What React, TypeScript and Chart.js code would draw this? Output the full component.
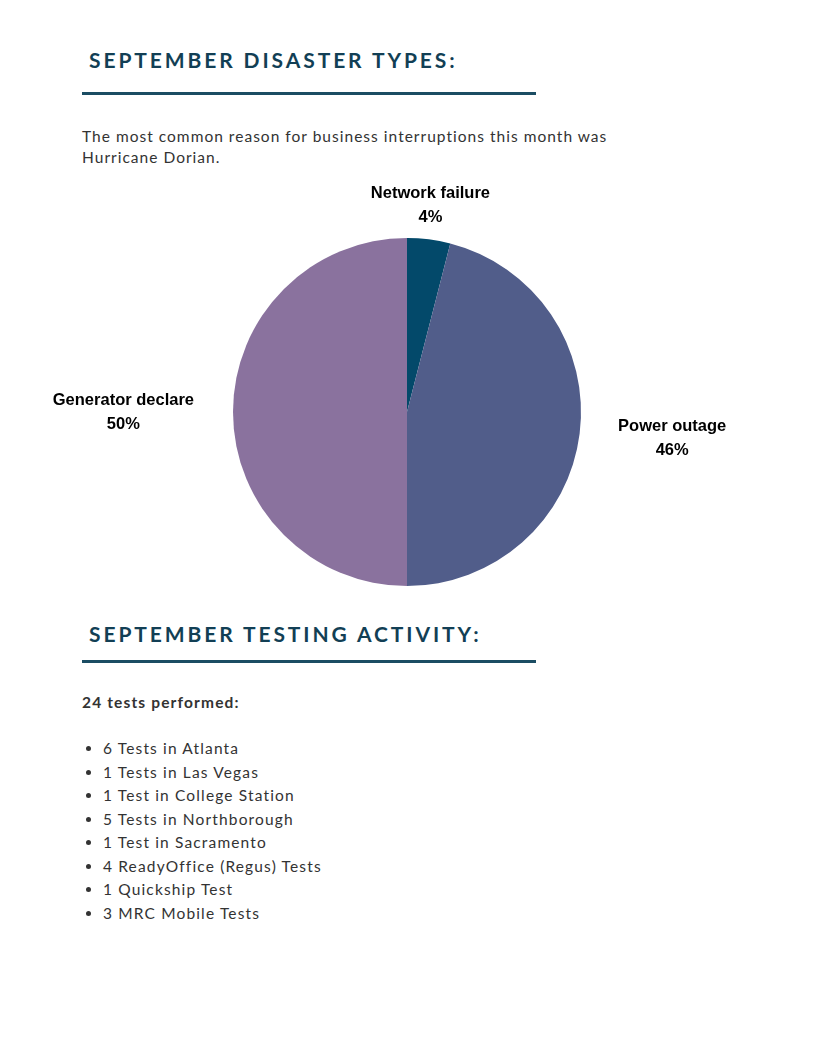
import React, { useEffect, useRef } from "react";
import { Chart, registerables } from "chart.js";

Chart.register(...registerables);

const categories = ["Network failure", "Power outage", "Generator declare"];
const percentValues = [4, 46, 50];
const sliceColors = ["#03496a", "#515d8a", "#8a729e"];

const heading1 = "SEPTEMBER DISASTER TYPES:";
const intro = "The most common reason for business interruptions this month was Hurricane Dorian.";
const heading2 = "SEPTEMBER TESTING ACTIVITY:";
const testsSummary = "24 tests performed:";
const testItems = [
  "6 Tests in Atlanta",
  "1 Tests in Las Vegas",
  "1 Test in College Station",
  "5 Tests in Northborough",
  "1 Test in Sacramento",
  "4 ReadyOffice (Regus) Tests",
  "1 Quickship Test",
  "3 MRC Mobile Tests",
];

const labelPlugin = {
  id: "outsideLabels",
  afterDatasetsDraw(chart: any) {
    const ctx = chart.ctx;
    const meta = chart.getDatasetMeta(0);
    const data = chart.data.datasets[0].data as number[];
    ctx.save();
    ctx.font = "bold 16.5px 'Liberation Sans', Arial, sans-serif";
    ctx.fillStyle = "#000";
    meta.data.forEach((arc: any, i: number) => {
      const { x, y, startAngle, endAngle, outerRadius } = arc.getProps(
        ["x", "y", "startAngle", "endAngle", "outerRadius"],
        true
      );
      const mid = (startAngle + endAngle) / 2;
      const dx = Math.cos(mid);
      const dy = Math.sin(mid);
      const g = 9 + 30 * Math.abs(dx);
      const ax = x + (outerRadius + g) * dx;
      const ay = y + (outerRadius + g) * dy;
      const l1 = chart.data.labels[i];
      const l2 = data[i] + "%";
      const w = Math.max(ctx.measureText(l1).width, ctx.measureText(l2).width);
      const h = 42;
      let cx = ax;
      if (dx > 0.4) cx = ax + w / 2;
      else if (dx < -0.4) cx = ax - w / 2;
      let cy = ay;
      if (dy < -0.4) cy = ay - h / 2;
      else if (dy > 0.4) cy = ay + h / 2;
      ctx.textAlign = "center";
      ctx.textBaseline = "middle";
      ctx.fillText(l1, cx, cy - 12);
      ctx.fillText(l2, cx, cy + 12);
    });
    ctx.restore();
  },
};

function PieChart() {
  const ref = useRef<HTMLCanvasElement | null>(null);
  useEffect(() => {
    if (!ref.current) return;
    const chart = new Chart(ref.current, {
      type: "pie",
      data: {
        labels: categories,
        datasets: [
          {
            data: percentValues,
            backgroundColor: sliceColors,
            borderWidth: 0,
          },
        ],
      },
      options: {
        responsive: false,
        animation: false,
        layout: { padding: { left: 233, right: 235, top: 58, bottom: 14 } },
        plugins: { legend: { display: false }, tooltip: { enabled: false } },
      },
      plugins: [labelPlugin],
    });
    return () => chart.destroy();
  }, []);
  return (
    <canvas
      ref={ref}
      width={816}
      height={420}
      style={{ position: "absolute", left: 0, top: 180, width: 816, height: 420 }}
    />
  );
}

const titleStyle: React.CSSProperties = {
  position: "absolute",
  left: 89,
  fontFamily: "Lato, sans-serif",
  fontWeight: 700,
  fontSize: 21,
  lineHeight: "22px",
  letterSpacing: "2.9px",
  color: "#123f55",
  whiteSpace: "nowrap",
};

const ruleStyle: React.CSSProperties = {
  position: "absolute",
  left: 82,
  width: 454,
  height: 3,
  background: "#1b4d63",
};

const bodyText: React.CSSProperties = {
  fontFamily: "Lato, sans-serif",
  fontSize: 15.5,
  color: "#333",
  letterSpacing: "1.15px",
};

export default function App() {
  return (
    <div
      style={{
        position: "absolute",
        left: 0,
        top: 0,
        width: 816,
        height: 1056,
        background: "#fff",
        overflow: "hidden",
      }}
    >
      <div style={{ ...titleStyle, top: 49 }}>{heading1}</div>
      <div style={{ ...ruleStyle, top: 92 }} />
      <div
        style={{
          ...bodyText,
          letterSpacing: "1.02px",
          position: "absolute",
          left: 82,
          top: 126,
          width: 560,
          lineHeight: "21px",
        }}
      >
        {intro}
      </div>
      <PieChart />
      <div style={{ ...titleStyle, top: 623 }}>{heading2}</div>
      <div style={{ ...ruleStyle, top: 660 }} />
      <div
        style={{
          ...bodyText,
          position: "absolute",
          left: 82,
          top: 691,
          fontWeight: 700,
          lineHeight: "22px",
        }}
      >
        {testsSummary}
      </div>
      <ul
        style={{
          ...bodyText,
          position: "absolute",
          left: 82,
          top: 737,
          margin: 0,
          paddingLeft: 21,
          lineHeight: "23.5px",
        }}
      >
        {testItems.map((t) => (
          <li key={t}>{t}</li>
        ))}
      </ul>
    </div>
  );
}
